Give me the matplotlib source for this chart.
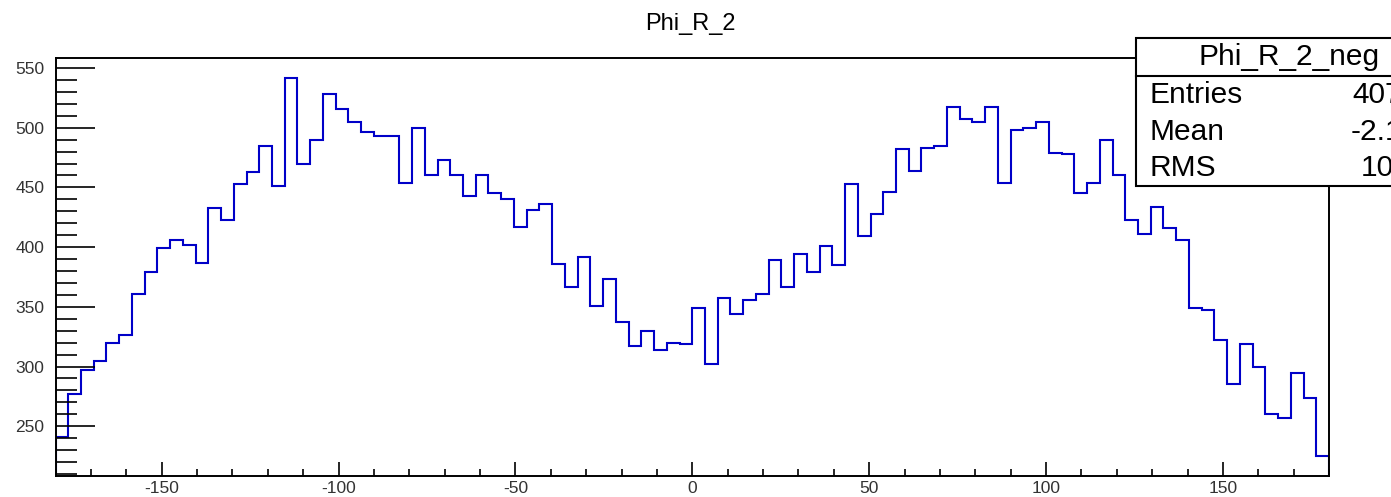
import numpy as np
import matplotlib
matplotlib.use("Agg")
import matplotlib.pyplot as plt
from matplotlib.patches import Rectangle
from matplotlib.ticker import MultipleLocator

# =========================
# 1. DATA  (100 bins, -180 .. 180)
# =========================
edges = np.linspace(-180, 180, 101)
counts = [
    241, 277, 297, 305, 320, 326, 361, 379, 399, 406,
    402, 387, 433, 423, 453, 463, 485, 451, 542, 470,
    490, 528, 516, 505, 496, 493, 493, 454, 500, 460,
    473, 460, 443, 460, 445, 440, 417, 431, 436, 386,
    367, 392, 351, 373, 337, 317, 330, 314, 320, 319,
    349, 302, 357, 344, 356, 361, 389, 367, 394, 379,
    401, 385, 453, 409, 428, 446, 482, 464, 483, 485,
    517, 507, 505, 517, 454, 498, 500, 505, 479, 478,
    445, 454, 490, 460, 423, 411, 434, 416, 406, 349,
    347, 322, 285, 319, 300, 260, 257, 295, 274, 225,
]
hist_title = "Phi_R_2"
hist_name = "Phi_R_2_neg"

counts = np.array(counts, dtype=float)
centers = 0.5 * (edges[:-1] + edges[1:])
entries = int(counts.sum())
mean = (counts * centers).sum() / counts.sum()
rms = np.sqrt((counts * (centers - mean) ** 2).sum() / counts.sum())

# =========================
# 2. FIGURE
# =========================
W, H = 1391, 497
plt.rcParams["font.family"] = ["Liberation Sans", "DejaVu Sans"]
plt.rcParams["axes.unicode_minus"] = False
fig = plt.figure(figsize=(W / 100, H / 100), dpi=100)
fig.patch.set_facecolor("white")

def fx(px):
    return px / W

def fy(py):
    return 1 - py / H

ax = fig.add_axes([fx(55.5), fy(475.7), fx(1329) - fx(55.5), fy(58.3) - fy(475.7)])

# =========================
# 3. HISTOGRAM
# =========================
ax.stairs(counts, edges, baseline=0, color="#0000c8", lw=1.5)
ax.set_xlim(-180, 180)
ax.set_ylim(208.6, 558.1)

ax.xaxis.set_major_locator(MultipleLocator(50))
ax.xaxis.set_minor_locator(MultipleLocator(10))
ax.yaxis.set_major_locator(MultipleLocator(50))
ax.yaxis.set_minor_locator(MultipleLocator(10))
ax.tick_params(axis="x", which="major", direction="in", length=10, width=1.2,
               labelsize=12.5, pad=4, top=False, labelcolor="#333333")
ax.tick_params(axis="x", which="minor", direction="in", length=5, width=1.2, top=False)
ax.tick_params(axis="y", which="major", direction="in", length=28, width=1.2,
               labelsize=12.5, pad=8, right=False, labelcolor="#333333")
ax.tick_params(axis="y", which="minor", direction="in", length=15, width=1.2, right=False)
for s in ax.spines.values():
    s.set_linewidth(1.4)

fig.text(fx(690), fy(30), hist_title, ha="center", va="baseline", fontsize=17)

# =========================
# 4. STATS BOX
# =========================
box_l, box_t, box_r, box_b = 1136, 38, 1442, 186
fig.patches.append(Rectangle((fx(box_l), fy(box_b)), fx(box_r) - fx(box_l),
                             fy(box_t) - fy(box_b), transform=fig.transFigure,
                             facecolor="white", edgecolor="black", lw=1.5,
                             zorder=5, clip_on=False))
fig.add_artist(plt.Line2D([fx(box_l), fx(box_r)], [fy(76), fy(76)],
                          transform=fig.transFigure, color="black", lw=1.5, zorder=6))
fig.text(fx((box_l + box_r) / 2), fy(65), hist_name, ha="center", va="baseline",
         fontsize=21.5, zorder=7)
rows = [("Entries", f"{entries}", 102.7),
        ("Mean", f"{mean:.3f}", 140),
        ("RMS", f"{rms:.1f}", 175.7)]
for lab, val, base in rows:
    fig.text(fx(1150), fy(base), lab, ha="left", va="baseline", fontsize=21.5, zorder=7)
    fig.text(fx(1435), fy(base), val, ha="right", va="baseline", fontsize=21.5, zorder=7)

# =========================
# 5. SAVE
# =========================
plt.savefig("out.png", dpi=100)
print(entries, mean, rms)
